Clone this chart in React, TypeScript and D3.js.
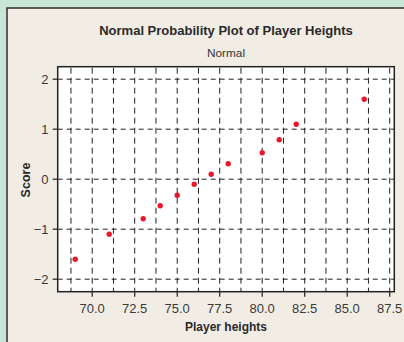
import React from "react";
import * as d3 from "d3";

const heights = [69, 71, 73, 74, 75, 76, 77, 78, 80, 81, 82, 86];
const scores = [-1.6, -1.1, -0.79, -0.53, -0.32, -0.1, 0.1, 0.31, 0.53, 0.79, 1.1, 1.6];
const xTicks = [70, 72.5, 75, 77.5, 80, 82.5, 85, 87.5];
const xGrid = [68.75, 70, 71.25, 72.5, 73.75, 75, 76.25, 77.5, 78.75, 80, 81.25, 82.5, 83.75, 85, 86.25, 87.5];
const yTicks = [-2, -1, 0, 1, 2];
const title = "Normal Probability Plot of Player Heights";
const subtitle = "Normal";
const xLabel = "Player heights";
const yLabel = "Score";

const W = 404, H = 342;
const left = 57.7, right = 394.3, top = 66.7, bottom = 291.7;

export default function App() {
  const x = d3.scaleLinear().domain([67.97, 87.77]).range([left, right]);
  const y = d3.scaleLinear().domain([-2.25, 2.25]).range([bottom, top]);
  const font = "'Liberation Sans', Arial, Helvetica, sans-serif";
  const fmtX = d3.format(".1f");
  const fmtY = (v: number) => (v < 0 ? "\u2212" + Math.abs(v) : String(v));
  return (
    <svg width={W} height={H} style={{ position: "absolute", left: 0, top: 0 }} fontFamily={font}>
      <rect x={0} y={0} width={W} height={H} fill="#c9e5d6" />
      <rect x={7} y={8} width={W} height={H} fill="#f1ede5" stroke="#2e2e2e" strokeWidth={1.5} />
      <text x={226} y={35} textAnchor="middle" fontSize={13} fontWeight="bold" fill="#2a2a2a">{title}</text>
      <text x={226} y={57} textAnchor="middle" fontSize={11.8} fill="#333">{subtitle}</text>
      <rect x={left} y={top} width={right - left} height={bottom - top} fill="#ffffff" />
      {xGrid.map((v) => (
        <line key={"gx" + v} x1={x(v)} x2={x(v)} y1={top} y2={bottom} stroke="#222" strokeWidth={1} strokeDasharray="6,4" strokeDashoffset={-1} />
      ))}
      {yTicks.map((v) => (
        <line key={"gy" + v} x1={left} x2={right} y1={y(v)} y2={y(v)} stroke="#222" strokeWidth={1} strokeDasharray="5,4" />
      ))}
      <rect x={left} y={top} width={right - left} height={bottom - top} fill="none" stroke="#222" strokeWidth={1.5} />
      {xTicks.map((v) => (
        <g key={"xt" + v}>
          <line x1={x(v)} x2={x(v)} y1={bottom} y2={bottom + 5} stroke="#222" strokeWidth={1.2} />
          <text x={x(v)} y={313} textAnchor="middle" fontSize={13} fill="#3a3a3a">{fmtX(v)}</text>
        </g>
      ))}
      {yTicks.map((v) => (
        <g key={"yt" + v}>
          <line x1={left - 5} x2={left} y1={y(v)} y2={y(v)} stroke="#222" strokeWidth={1.2} />
          <text x={48.5} y={y(v) + 4.6} textAnchor="end" fontSize={13} fill="#3a3a3a">{fmtY(v)}</text>
        </g>
      ))}
      <text x={226} y={331} textAnchor="middle" fontSize={12} fontWeight="bold" fill="#2a2a2a">{xLabel}</text>
      <text transform={`translate(29.5,180) rotate(-90)`} textAnchor="middle" fontSize={12.5} fontWeight="bold" fill="#2a2a2a">{yLabel}</text>
      {heights.map((h, i) => (
        <circle key={"p" + i} cx={x(h)} cy={y(scores[i])} r={2.7} fill="#e8192c" />
      ))}
    </svg>
  );
}
